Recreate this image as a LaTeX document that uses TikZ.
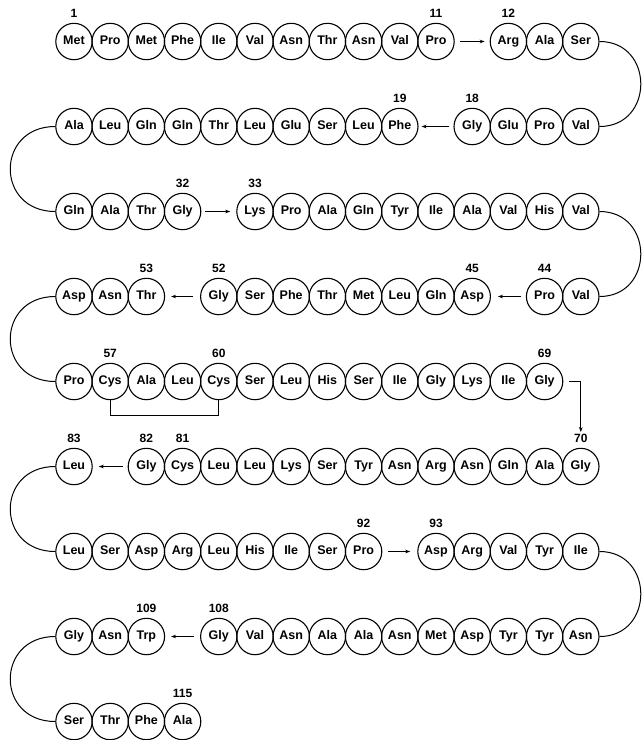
\documentclass[tikz,border=0pt]{standalone}
\usepackage{fontspec}
\setmainfont{Liberation Sans}
\usetikzlibrary{arrows.meta}
\begin{document}
\begin{tikzpicture}[x=1pt,y=-1pt,
  aa/.style={circle,draw,line width=1.1pt,minimum size=36.4pt,inner sep=0pt,
    text height=9pt,text depth=2.4pt,font=\fontsize{12.5}{14}\selectfont\bfseries},
  num/.style={inner sep=0pt,font=\fontsize{12}{14}\selectfont\bfseries},
  link/.style={line width=1pt},
  arr/.style={line width=1pt,-{Stealth[length=5pt,width=3.6pt]}}]
\useasboundingbox (0,0) rectangle (643,740);
% residues: number/column/row/name
\foreach \n/\c/\r/\res in {
  1/0/0/Met,2/1/0/Pro,3/2/0/Met,4/3/0/Phe,5/4/0/Ile,6/5/0/Val,7/6/0/Asn,8/7/0/Thr,9/8/0/Asn,10/9/0/Val,11/10/0/Pro,
  12/12/0/Arg,13/13/0/Ala,14/14/0/Ser,
  15/14/1/Val,16/13/1/Pro,17/12/1/Glu,18/11/1/Gly,
  19/9/1/Phe,20/8/1/Leu,21/7/1/Ser,22/6/1/Glu,23/5/1/Leu,24/4/1/Thr,25/3/1/Gln,26/2/1/Gln,27/1/1/Leu,28/0/1/Ala,
  29/0/2/Gln,30/1/2/Ala,31/2/2/Thr,32/3/2/Gly,
  33/5/2/Lys,34/6/2/Pro,35/7/2/Ala,36/8/2/Gln,37/9/2/Tyr,38/10/2/Ile,39/11/2/Ala,40/12/2/Val,41/13/2/His,42/14/2/Val,
  43/14/3/Val,44/13/3/Pro,
  45/11/3/Asp,46/10/3/Gln,47/9/3/Leu,48/8/3/Met,49/7/3/Thr,50/6/3/Phe,51/5/3/Ser,52/4/3/Gly,
  53/2/3/Thr,54/1/3/Asn,55/0/3/Asp,
  56/0/4/Pro,57/1/4/Cys,58/2/4/Ala,59/3/4/Leu,60/4/4/Cys,61/5/4/Ser,62/6/4/Leu,63/7/4/His,64/8/4/Ser,65/9/4/Ile,
  66/10/4/Gly,67/11/4/Lys,68/12/4/Ile,69/13/4/Gly,
  70/14/5/Gly,71/13/5/Ala,72/12/5/Gln,73/11/5/Asn,74/10/5/Arg,75/9/5/Asn,76/8/5/Tyr,77/7/5/Ser,78/6/5/Lys,79/5/5/Leu,
  80/4/5/Leu,81/3/5/Cys,82/2/5/Gly,83/0/5/Leu,
  84/0/6/Leu,85/1/6/Ser,86/2/6/Asp,87/3/6/Arg,88/4/6/Leu,89/5/6/His,90/6/6/Ile,91/7/6/Ser,92/8/6/Pro,
  93/10/6/Asp,94/11/6/Arg,95/12/6/Val,96/13/6/Tyr,97/14/6/Ile,
  98/14/7/Asn,99/13/7/Tyr,100/12/7/Tyr,101/11/7/Asp,102/10/7/Met,103/9/7/Asn,104/8/7/Ala,105/7/7/Ala,106/6/7/Asn,
  107/5/7/Val,108/4/7/Gly,109/2/7/Trp,110/1/7/Asn,111/0/7/Gly,
  112/0/8/Ser,113/1/8/Thr,114/2/8/Phe,115/3/8/Ala}
  {\node[aa] (r\n) at ({74+36.2*\c},{41.5+85*\r}) {\res};}
% position numbers
\foreach \n/\c/\r in {1/0/0,11/10/0,12/12/0,19/9/1,18/11/1,32/3/2,33/5/2,53/2/3,52/4/3,45/11/3,44/13/3,
  57/1/4,60/4/4,69/13/4,70/14/5,83/0/5,82/2/5,81/3/5,92/8/6,93/10/6,109/2/7,108/4/7,115/3/8}
  {\node[num] (n\n) at ({74+36.2*\c},{41.5+85*\r-28}) {\n};}
% arrows across gaps
\draw[arr] ([xshift=5pt]r11.east) -- ([xshift=-5pt]r12.west);
\draw[arr] ([xshift=-4pt]r18.west) -- ([xshift=3pt]r19.east);
\draw[arr] ([xshift=4pt]r32.east) -- ([xshift=-6pt]r33.west);
\draw[arr] ([xshift=-5pt]r44.west) -- ([xshift=7pt]r45.east);
\draw[arr] ([xshift=-7pt]r52.west) -- ([xshift=6pt]r53.east);
\draw[arr] ([xshift=-5pt]r82.west) -- ([xshift=6pt]r83.east);
\draw[arr] ([xshift=6pt]r92.east) -- ([xshift=-7pt]r93.west);
\draw[arr] ([xshift=-6pt]r108.west) -- ([xshift=6pt]r109.east);
% turn from 69 to 70
\draw[arr] ([xshift=6pt]r69.east) -| ([yshift=2pt]n70.north);
% right-hand turns
\draw[link] (r14.east) .. controls +(55,0) and +(55,0) .. (r15.east);
\draw[link] (r42.east) .. controls +(55,0) and +(55,0) .. (r43.east);
\draw[link] (r97.east) .. controls +(55,0) and +(55,0) .. (r98.east);
% left-hand turns
\draw[link] (r28.west) .. controls +(-60,0) and +(-60,0) .. (r29.west);
\draw[link] (r55.west) .. controls +(-60,0) and +(-60,0) .. (r56.west);
\draw[link] (r83.west) .. controls +(-60,0) and +(-60,0) .. (r84.west);
\draw[link] (r111.west) .. controls +(-60,0) and +(-60,0) .. (r112.west);
% disulfide bridge
\draw[link] (r57.south) -- ++(0,15) -| (r60.south);
\end{tikzpicture}
\end{document}
